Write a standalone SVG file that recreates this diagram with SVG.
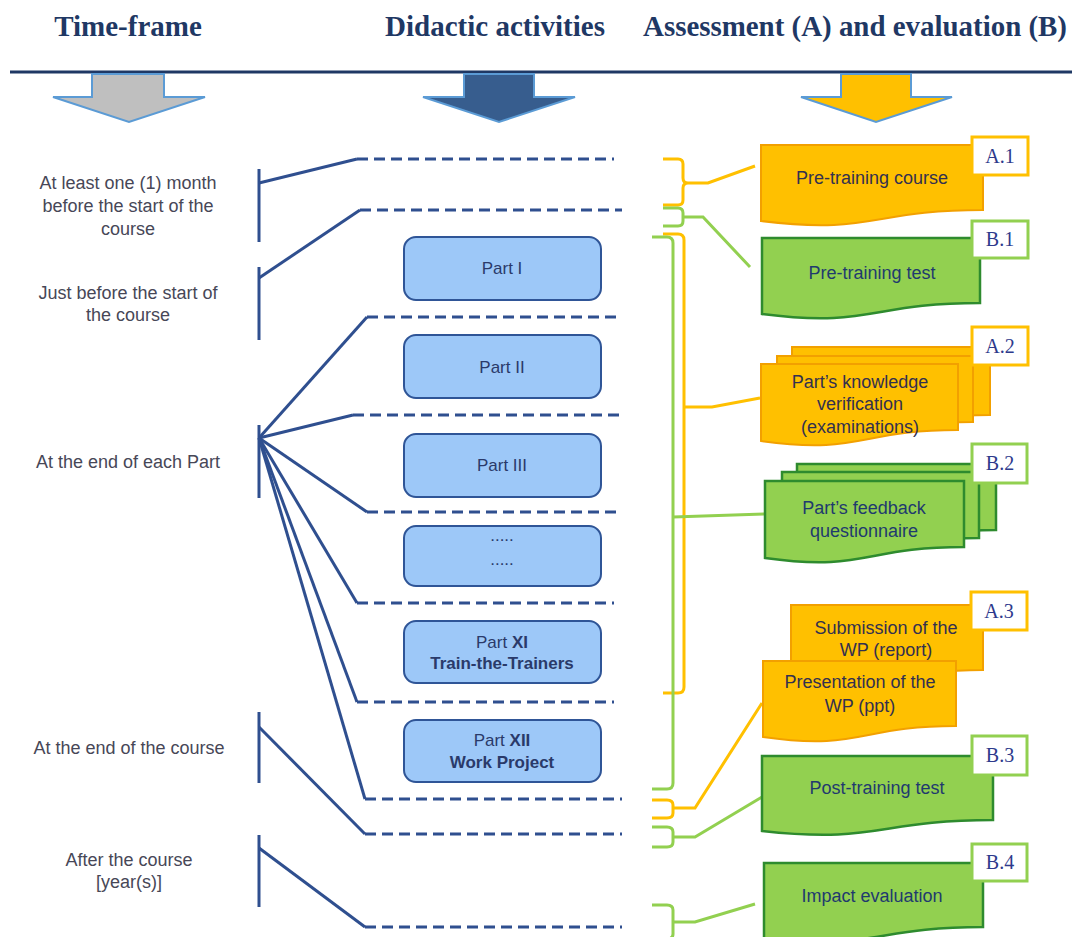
<svg xmlns="http://www.w3.org/2000/svg" width="1072" height="937" viewBox="0 0 1072 937">
<style>
.hdr{font-family:"Liberation Serif","Times New Roman",serif;font-weight:bold;font-size:29px;fill:#1f3864;text-anchor:middle}
.lt{font-family:"Liberation Sans",Arial,sans-serif;font-size:18px;fill:#474757;text-anchor:middle}
.pt{font-family:"Liberation Sans",Arial,sans-serif;font-size:17px;fill:#2a3a6a;text-anchor:middle}
.dt{font-family:"Liberation Sans",Arial,sans-serif;font-size:18px;fill:#33304f;text-anchor:middle}
.gt{font-family:"Liberation Sans",Arial,sans-serif;font-size:18px;fill:#1f3a6e;text-anchor:middle}
.lb{font-family:"Liberation Serif","Times New Roman",serif;font-size:20px;fill:#2e3a8c;text-anchor:middle}
.bar{stroke:#2f4f8f;stroke-width:3;fill:none}
.dash{stroke:#2f4f8f;stroke-width:3;fill:none;stroke-dasharray:11 6}
.part{fill:#9dc8f8;stroke:#2f5597;stroke-width:2}
.odoc{fill:#ffc000;stroke:#f2a000;stroke-width:2}
.gdoc{fill:#92d050;stroke:#2e8b2e;stroke-width:2.5}
.la{fill:#fff;stroke:#ffc000;stroke-width:3}
.lg{fill:#fff;stroke:#92d050;stroke-width:3}
.ob{stroke:#ffc000;stroke-width:3;fill:none}
.gb{stroke:#92d050;stroke-width:3;fill:none}
.arr{stroke:#5b9bd5;stroke-width:2}
</style>

<g id="header">
<text class="hdr" x="128" y="36">Time-frame</text>
<text class="hdr" x="495" y="36">Didactic activities</text>
<text class="hdr" x="855" y="36" textLength="424" lengthAdjust="spacingAndGlyphs">Assessment (A) and evaluation (B)</text>
<line x1="10" y1="72" x2="1072" y2="72" stroke="#1f3864" stroke-width="3"/>
<polygon class="arr" fill="#bfbfbf" points="92,74 164,74 164,97 205,97 129,122 53,97 92,97"/>
<polygon class="arr" fill="#375d8e" points="464,74 534,74 534,97 575,97 499,122 423,97 464,97"/>
<polygon class="arr" fill="#ffc000" points="841,74 911,74 911,97 952,97 876,122 801,97 841,97"/>
</g>

<g id="timeframe">
<text class="lt" x="128" y="189">At least one (1) month</text>
<text class="lt" x="128" y="212">before the start of the</text>
<text class="lt" x="128" y="235">course</text>
<text class="lt" x="128" y="299">Just before the start of</text>
<text class="lt" x="128" y="321">the course</text>
<text class="lt" x="128" y="468">At the end of each Part</text>
<text class="lt" x="129" y="754">At the end of the course</text>
<text class="lt" x="129" y="866">After the course</text>
<text class="lt" x="129" y="888">[year(s)]</text>
<line class="bar" x1="259" y1="169" x2="259" y2="242"/>
<line class="bar" x1="259" y1="267" x2="259" y2="340"/>
<line class="bar" x1="259" y1="425" x2="259" y2="498"/>
<line class="bar" x1="259" y1="712" x2="259" y2="783"/>
<line class="bar" x1="259" y1="835" x2="259" y2="907"/>
</g>

<g id="connectors">
<polyline class="bar" points="259,183 357,159"/>
<polyline class="bar" points="259,278 360,210"/>
<polyline class="bar" points="259,438 367,317"/>
<polyline class="bar" points="259,438 353,415"/>
<polyline class="bar" points="259,438 367,512"/>
<polyline class="bar" points="259,438 357,603"/>
<polyline class="bar" points="259,438 357,702"/>
<polyline class="bar" points="259,438 365,799"/>
<polyline class="bar" points="259,727 365,834"/>
<polyline class="bar" points="259,848 365,927"/>
<line class="dash" x1="357" y1="159" x2="614" y2="159"/>
<line class="dash" x1="360" y1="210" x2="622" y2="210"/>
<line class="dash" x1="367" y1="317" x2="622" y2="317"/>
<line class="dash" x1="353" y1="415" x2="622" y2="415"/>
<line class="dash" x1="367" y1="512" x2="622" y2="512"/>
<line class="dash" x1="357" y1="603" x2="614" y2="603"/>
<line class="dash" x1="357" y1="702" x2="614" y2="702"/>
<line class="dash" x1="365" y1="799" x2="622" y2="799"/>
<line class="dash" x1="365" y1="834" x2="622" y2="834"/>
<line class="dash" x1="365" y1="927" x2="622" y2="927"/>

<path class="ob" d="M663 159 H678 Q683 159 683 164 V178 Q683 183 688 183 Q683 183 683 188 V200 Q683 205 678 205 H663"/>
<path class="ob" d="M688 183 H708 L755 166"/>
<path class="gb" d="M663 208 H678 Q683 208 683 213 V221 Q683 226 678 226 H663"/>
<path class="gb" d="M683 217 H703 L750 267"/>
<path class="ob" d="M663 234 H678 Q684 234 684 240 V687 Q684 693 678 693 H663"/>
<path class="ob" d="M684 407 H712 L760 398"/>
<path class="gb" d="M652 237 H667 Q673 237 673 243 V783 Q673 789 667 789 H652"/>
<path class="gb" d="M673 517 L765 514"/>
<path class="ob" d="M652 800 H667 Q673 800 673 805 V813 Q673 818 667 818 H652"/>
<path class="ob" d="M673 808 H695 L762 703"/>
<path class="gb" d="M652 827 H667 Q673 827 673 832 V842 Q673 847 667 847 H652"/>
<path class="gb" d="M673 837 H695 L762 797"/>
<path class="gb" d="M652 905 H667 Q673 905 673 910 V934 Q673 939 667 939 H652"/>
<path class="gb" d="M673 922 H695 L755 904"/>
</g>

<g id="part1"><rect class="part" x="404" y="237" width="197" height="63" rx="12"/><text class="pt" x="502" y="274">Part I</text></g>
<g id="part2"><rect class="part" x="404" y="335" width="197" height="63" rx="12"/><text class="pt" x="502" y="373">Part II</text></g>
<g id="part3"><rect class="part" x="404" y="434" width="197" height="63" rx="12"/><text class="pt" x="502" y="471">Part III</text></g>
<g id="partdots"><rect class="part" x="404" y="526" width="197" height="60" rx="12"/><text class="pt" x="502" y="541">.....</text><text class="pt" x="502" y="565">.....</text></g>
<g id="part11"><rect class="part" x="404" y="621" width="197" height="62" rx="12"/><text class="pt" x="502" y="648">Part <tspan font-weight="bold">XI</tspan></text><text class="pt" x="502" y="669" font-weight="bold">Train-the-Trainers</text></g>
<g id="part12"><rect class="part" x="404" y="720" width="197" height="62" rx="12"/><text class="pt" x="502" y="746">Part <tspan font-weight="bold">XII</tspan></text><text class="pt" x="502" y="768" font-weight="bold">Work Project</text></g>

<g id="A1">
<path class="odoc" d="M761 145 H983 V210 C872 210 872 235 761 221 Z"/>
<text class="dt" x="872" y="184">Pre-training course</text>
<rect class="la" x="972" y="137" width="56" height="38"/><text class="lb" x="1000" y="163">A.1</text>
</g>
<g id="B1">
<path class="gdoc" d="M762 238 H980 V303 C871 303 871 328 762 314 Z"/>
<text class="gt" x="872" y="279">Pre-training test</text>
<rect class="lg" x="972" y="221" width="56" height="37"/><text class="lb" x="1000" y="246">B.1</text>
</g>
<g id="A2">
<path class="odoc" d="M792 347 H990 V415 C891 415 891 441 792 426 Z"/>
<path class="odoc" d="M777 356 H973 V422 C875 422 875 447 777 433 Z"/>
<path class="odoc" d="M761 364 H958 V430 C860 430 860 455 761 441 Z"/>
<text class="dt" x="860" y="388">Part’s knowledge</text>
<text class="dt" x="860" y="410">verification</text>
<text class="dt" x="860" y="433">(examinations)</text>
<rect class="la" x="972" y="327" width="56" height="38"/><text class="lb" x="1000" y="353">A.2</text>
</g>
<g id="B2">
<path class="gdoc" d="M797 464 H996 V530 C897 530 897 555 797 541 Z"/>
<path class="gdoc" d="M782 472 H979 V538 C881 538 881 563 782 549 Z"/>
<path class="gdoc" d="M765 481 H964 V547 C865 547 865 572 765 558 Z"/>
<text class="gt" x="864" y="514">Part’s feedback</text>
<text class="gt" x="864" y="537">questionnaire</text>
<rect class="lg" x="972" y="444" width="55" height="39"/><text class="lb" x="1000" y="470">B.2</text>
</g>
<g id="A3">
<path class="odoc" d="M791 605 H983 V670 C887 670 887 695 791 681 Z"/>
<text class="dt" x="886" y="634">Submission of the</text>
<text class="dt" x="886" y="656">WP (report)</text>
<path class="odoc" d="M763 661 H956 V726 C860 726 860 751 763 737 Z"/>
<text class="dt" x="860" y="688">Presentation of the</text>
<text class="dt" x="860" y="712">WP (ppt)</text>
<rect class="la" x="971" y="592" width="56" height="38"/><text class="lb" x="999" y="618">A.3</text>
</g>
<g id="B3">
<path class="gdoc" d="M762 756 H993 V820 C878 820 878 844 762 831 Z"/>
<text class="gt" x="877" y="794">Post-training test</text>
<rect class="lg" x="972" y="736" width="55" height="39"/><text class="lb" x="1000" y="762">B.3</text>
</g>
<g id="B4">
<path class="gdoc" d="M764 863 H983 V927 C874 927 874 951 764 938 Z"/>
<text class="gt" x="872" y="902">Impact evaluation</text>
<rect class="lg" x="972" y="844" width="55" height="37"/><text class="lb" x="1000" y="869">B.4</text>
</g>
</svg>
